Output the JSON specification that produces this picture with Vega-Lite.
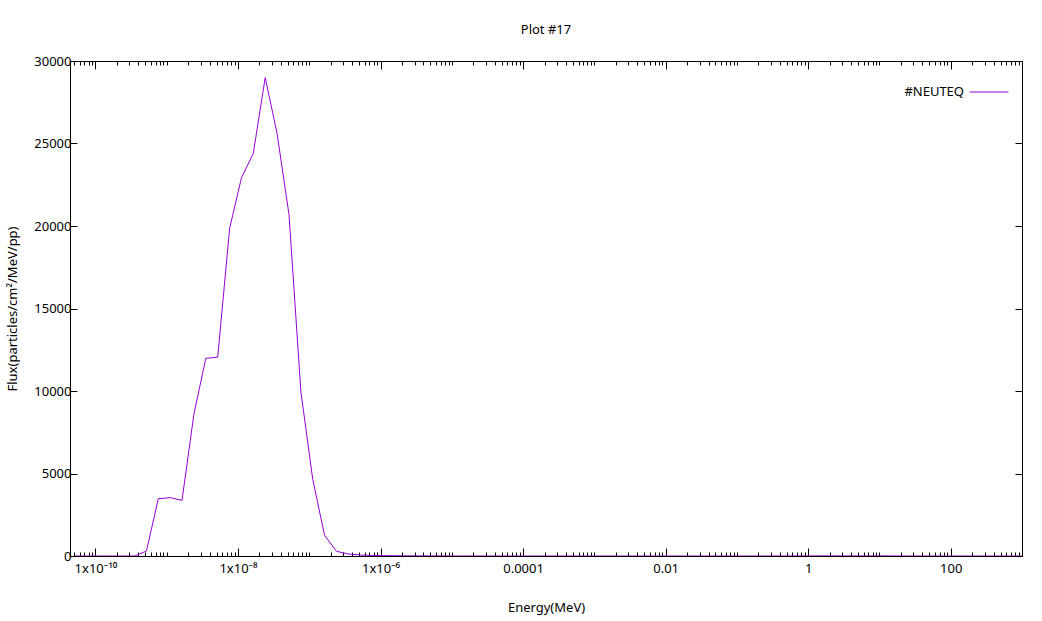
{
  "$schema": "https://vega.github.io/schema/vega-lite/v6.json",
  "width": 952,
  "height": 495,
  "autosize": "none",
  "padding": {"left": 70, "top": 61, "right": 20, "bottom": 65},
  "background": "white",
  "config": {
    "view": {"stroke": "black", "strokeWidth": 1},
    "font": "Noto Sans",
    "axis": {"domain": false, "grid": false, "tickColor": "black", "labelColor": "black", "titleColor": "black", "labelFontSize": 13, "titleFontSize": 13, "titleFontWeight": "normal", "labelFont": "Noto Sans", "titleFont": "Noto Sans"}
  },
  "title": {"text": "Plot #17", "fontSize": 13, "fontWeight": "normal", "font": "Noto Sans", "color": "black", "anchor": "middle", "offset": 18},
  "data": {
    "values": [
      {"energy": 5.2e-11, "flux": 0, "series": "#NEUTEQ"},
      {"energy": 7.64e-11, "flux": 0, "series": "#NEUTEQ"},
      {"energy": 1.12e-10, "flux": 0, "series": "#NEUTEQ"},
      {"energy": 1.64e-10, "flux": 0, "series": "#NEUTEQ"},
      {"energy": 2.41e-10, "flux": 0, "series": "#NEUTEQ"},
      {"energy": 3.54e-10, "flux": 0, "series": "#NEUTEQ"},
      {"energy": 5.2e-10, "flux": 303, "series": "#NEUTEQ"},
      {"energy": 7.64e-10, "flux": 3473, "series": "#NEUTEQ"},
      {"energy": 1.12e-9, "flux": 3535, "series": "#NEUTEQ"},
      {"energy": 1.64e-9, "flux": 3374, "series": "#NEUTEQ"},
      {"energy": 2.41e-9, "flux": 8600, "series": "#NEUTEQ"},
      {"energy": 3.54e-9, "flux": 11980, "series": "#NEUTEQ"},
      {"energy": 5.2e-9, "flux": 12050, "series": "#NEUTEQ"},
      {"energy": 7.64e-9, "flux": 19860, "series": "#NEUTEQ"},
      {"energy": 1.12e-8, "flux": 22920, "series": "#NEUTEQ"},
      {"energy": 1.64e-8, "flux": 24400, "series": "#NEUTEQ"},
      {"energy": 2.41e-8, "flux": 28990, "series": "#NEUTEQ"},
      {"energy": 3.54e-8, "flux": 25600, "series": "#NEUTEQ"},
      {"energy": 5.2e-8, "flux": 20700, "series": "#NEUTEQ"},
      {"energy": 7.64e-8, "flux": 9940, "series": "#NEUTEQ"},
      {"energy": 1.12e-7, "flux": 4650, "series": "#NEUTEQ"},
      {"energy": 1.64e-7, "flux": 1254, "series": "#NEUTEQ"},
      {"energy": 2.41e-7, "flux": 285, "series": "#NEUTEQ"},
      {"energy": 3.54e-7, "flux": 121, "series": "#NEUTEQ"},
      {"energy": 5.2e-7, "flux": 60, "series": "#NEUTEQ"},
      {"energy": 7.64e-7, "flux": 35, "series": "#NEUTEQ"},
      {"energy": 1.12e-6, "flux": 22, "series": "#NEUTEQ"},
      {"energy": 1.64e-6, "flux": 15, "series": "#NEUTEQ"},
      {"energy": 2.41e-6, "flux": 10, "series": "#NEUTEQ"},
      {"energy": 3.54e-6, "flux": 8, "series": "#NEUTEQ"},
      {"energy": 5.2e-6, "flux": 5, "series": "#NEUTEQ"},
      {"energy": 1.12e-5, "flux": 3, "series": "#NEUTEQ"},
      {"energy": 5.2e-5, "flux": 1, "series": "#NEUTEQ"},
      {"energy": 1.12e-3, "flux": 0, "series": "#NEUTEQ"},
      {"energy": 0.112, "flux": 0, "series": "#NEUTEQ"},
      {"energy": 1.12, "flux": 5, "series": "#NEUTEQ"},
      {"energy": 11.2, "flux": 5, "series": "#NEUTEQ"},
      {"energy": 112, "flux": 0, "series": "#NEUTEQ"},
      {"energy": 1000, "flux": 0, "series": "#NEUTEQ"}
    ]
  },
  "layer": [
    {
      "mark": {"type": "line", "strokeWidth": 1, "clip": true},
      "encoding": {
        "x": {
          "field": "energy", "type": "quantitative",
          "scale": {"type": "log", "domain": [4.4e-11, 1000], "nice": false},
          "axis": {
            "orient": "bottom",
            "title": "Energy(MeV)",
            "titlePadding": 22,
            "values": [5e-11,6e-11,7e-11,8e-11,9e-11,1e-10,2e-10,3e-10,4e-10,5e-10,6e-10,7e-10,8e-10,9e-10,1e-9,2e-9,3e-9,4e-9,5e-9,6e-9,7e-9,8e-9,9e-9,1e-8,2e-8,3e-8,4e-8,5e-8,6e-8,7e-8,8e-8,9e-8,1e-7,2e-7,3e-7,4e-7,5e-7,6e-7,7e-7,8e-7,9e-7,1e-6,2e-6,3e-6,4e-6,5e-6,6e-6,7e-6,8e-6,9e-6,1e-5,2e-5,3e-5,4e-5,5e-5,6e-5,7e-5,8e-5,9e-5,1e-4,2e-4,3e-4,4e-4,5e-4,6e-4,7e-4,8e-4,9e-4,1e-3,2e-3,3e-3,4e-3,5e-3,6e-3,7e-3,8e-3,9e-3,0.01,0.02,0.03,0.04,0.05,0.06,0.07,0.08,0.09,0.1,0.2,0.3,0.4,0.5,0.6,0.7,0.8,0.9,1,2,3,4,5,6,7,8,9,10,20,30,40,50,60,70,80,90,100,200,300,400,500,600,700,800,900],
            "tickSize": {"condition": {"test": "abs(log(datum.value)/LN10 - round(log(datum.value)/LN10)) < 0.001 && round(log(datum.value)/LN10) % 2 == 0", "value": -8}, "value": -4},
            "labelPadding": 14,
            "labelFlush": false,
            "labelOverlap": false,
            "labelExpr": "abs(log(datum.value)/LN10 - round(log(datum.value)/LN10)) < 0.001 && round(log(datum.value)/LN10) % 2 == 0 ? (round(log(datum.value)/LN10) == -10 ? '1x10⁻¹⁰' : round(log(datum.value)/LN10) == -8 ? '1x10⁻⁸' : round(log(datum.value)/LN10) == -6 ? '1x10⁻⁶' : round(log(datum.value)/LN10) == -4 ? '0.0001' : round(log(datum.value)/LN10) == -2 ? '0.01' : round(log(datum.value)/LN10) == 0 ? '1' : '100') : ''"
          }
        },
        "y": {
          "field": "flux", "type": "quantitative",
          "scale": {"domain": [0, 30000], "nice": false, "zero": true},
          "axis": {
            "orient": "left",
            "title": "Flux(particles/cm²/MeV/pp)",
            "titlePadding": 14,
            "values": [0, 5000, 10000, 15000, 20000, 25000, 30000],
            "tickSize": -7,
            "labelPadding": 6,
            "format": "d"
          }
        },
        "color": {
          "field": "series", "type": "nominal",
          "scale": {"range": ["#9400d3"]},
          "legend": {
            "title": null,
            "orient": "none",
            "legendX": 899,
            "legendY": 11,
            "padding": 0,
            "symbolType": "stroke",
            "symbolSize": 1521,
            "symbolStrokeWidth": 1,
            "labelAlign": "right",
            "labelOffset": -45,
            "labelFontSize": 13,
            "labelFont": "Noto Sans",
            "labelColor": "black"
          }
        }
      }
    },
    {
      "mark": {"type": "line", "strokeOpacity": 0},
      "encoding": {
        "x": {
          "field": "energy", "type": "quantitative",
          "axis": {
            "orient": "top",
            "title": null,
            "labels": false,
            "values": [5e-11,6e-11,7e-11,8e-11,9e-11,1e-10,2e-10,3e-10,4e-10,5e-10,6e-10,7e-10,8e-10,9e-10,1e-9,2e-9,3e-9,4e-9,5e-9,6e-9,7e-9,8e-9,9e-9,1e-8,2e-8,3e-8,4e-8,5e-8,6e-8,7e-8,8e-8,9e-8,1e-7,2e-7,3e-7,4e-7,5e-7,6e-7,7e-7,8e-7,9e-7,1e-6,2e-6,3e-6,4e-6,5e-6,6e-6,7e-6,8e-6,9e-6,1e-5,2e-5,3e-5,4e-5,5e-5,6e-5,7e-5,8e-5,9e-5,1e-4,2e-4,3e-4,4e-4,5e-4,6e-4,7e-4,8e-4,9e-4,1e-3,2e-3,3e-3,4e-3,5e-3,6e-3,7e-3,8e-3,9e-3,0.01,0.02,0.03,0.04,0.05,0.06,0.07,0.08,0.09,0.1,0.2,0.3,0.4,0.5,0.6,0.7,0.8,0.9,1,2,3,4,5,6,7,8,9,10,20,30,40,50,60,70,80,90,100,200,300,400,500,600,700,800,900],
            "tickSize": {"condition": {"test": "abs(log(datum.value)/LN10 - round(log(datum.value)/LN10)) < 0.001 && round(log(datum.value)/LN10) % 2 == 0", "value": -8}, "value": -4}
          }
        },
        "y": {
          "field": "flux", "type": "quantitative",
          "axis": {
            "orient": "right",
            "title": null,
            "labels": false,
            "values": [0, 5000, 10000, 15000, 20000, 25000, 30000],
            "tickSize": -7
          }
        }
      }
    }
  ],
  "resolve": {"axis": {"x": "independent", "y": "independent"}}
}
